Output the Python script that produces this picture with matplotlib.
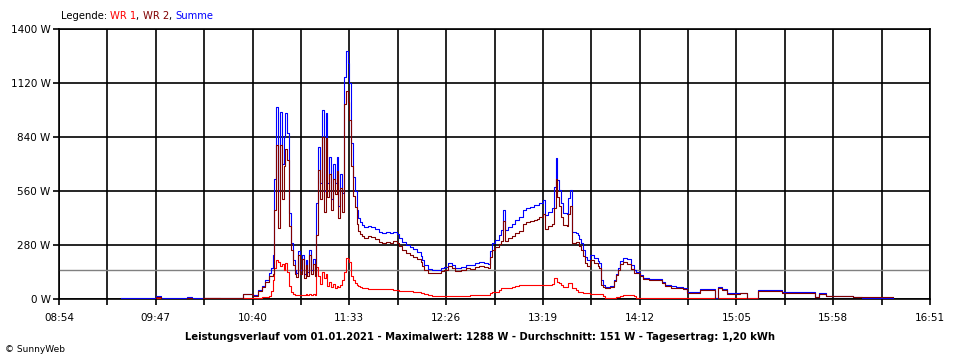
import numpy as np
import matplotlib
matplotlib.use('Agg')
import matplotlib.pyplot as plt
from matplotlib.ticker import FixedLocator

# Messwerte in Watt (Zeit, Summe, WR 1, WR 2)
times = ['09:28', '09:47', '09:50', '10:04', '10:07', '10:13', '10:22', '10:35', '10:40', '10:43',
         '10:45', '10:47', '10:49', '10:50', '10:51', '10:52', '10:53', '10:54', '10:55', '10:56',
         '10:57', '10:58', '10:59', '11:00', '11:01', '11:02', '11:03', '11:04', '11:05', '11:06',
         '11:07', '11:08', '11:09', '11:10', '11:11', '11:12', '11:13', '11:14', '11:15', '11:16',
         '11:17', '11:18', '11:19', '11:20', '11:21', '11:22', '11:23', '11:24', '11:25', '11:26',
         '11:27', '11:28', '11:29', '11:30', '11:31', '11:32', '11:33', '11:34', '11:35', '11:36',
         '11:37', '11:38', '11:39', '11:40', '11:41', '11:43', '11:45', '11:47', '11:49', '11:51',
         '11:53', '11:55', '11:57', '11:59', '12:00', '12:02', '12:04', '12:06', '12:08', '12:10',
         '12:12', '12:13', '12:14', '12:16', '12:18', '12:21', '12:23', '12:25', '12:27', '12:29',
         '12:31', '12:34', '12:37', '12:39', '12:42', '12:44', '12:47', '12:49', '12:50', '12:51',
         '12:53', '12:55', '12:56', '12:57', '12:58', '13:00', '13:02', '13:04', '13:06', '13:08',
         '13:10', '13:12', '13:14', '13:16', '13:17', '13:19', '13:20', '13:22', '13:24', '13:25',
         '13:26', '13:27', '13:28', '13:29', '13:30', '13:32', '13:33', '13:34', '13:35', '13:37',
         '13:38', '13:39', '13:40', '13:41', '13:42', '13:43', '13:45', '13:47', '13:49', '13:50',
         '13:51', '13:52', '13:53', '13:56', '13:58', '13:59', '14:00', '14:01', '14:03', '14:05',
         '14:07', '14:09', '14:10', '14:12', '14:14', '14:17', '14:21', '14:24', '14:26', '14:29',
         '14:32', '14:36', '14:38', '14:45', '14:53', '14:55', '14:57', '15:00', '15:07', '15:11',
         '15:17', '15:30', '15:48', '15:50', '15:54', '16:09', '16:14', '16:31']
summe = [4, 14, 4, 9, 4, 7, 5, 28, 20, 45,
         70, 100, 135, 160, 230, 620, 997, 560, 971, 700,
         840, 964, 860, 446, 290, 200, 150, 135, 250, 150,
         230, 130, 200, 140, 254, 150, 210, 140, 497, 788,
         600, 980, 560, 964, 601, 736, 520, 700, 601, 736,
         480, 650, 549, 1151, 1288, 1224, 1120, 809, 633, 560,
         461, 420, 400, 385, 373, 378, 373, 365, 350, 342,
         347, 342, 350, 335, 316, 295, 280, 268, 258, 244,
         225, 200, 176, 155, 150, 150, 160, 168, 187, 176,
         160, 165, 176, 176, 185, 192, 185, 180, 250, 290,
         306, 330, 358, 461, 358, 373, 390, 410, 425, 461,
         470, 477, 485, 490, 497, 513, 435, 450, 470, 581,
         731, 617, 565, 500, 446, 440, 524, 565, 347, 342,
         330, 310, 290, 254, 220, 202, 228, 212, 195, 187,
         98, 75, 62, 65, 98, 130, 160, 195, 212, 205,
         176, 150, 140, 125, 109, 104, 104, 90, 73, 66,
         62, 55, 36, 52, 5, 62, 52, 31, 33, 0,
         47, 36, 10, 31, 16, 10, 5, 5]
wr1 = [2, 6, 2, 4, 2, 3, 2, 4, 4, 6,
       8, 12, 15, 40, 100, 160, 200, 190, 170, 180,
       150, 185, 140, 70, 35, 25, 22, 21, 22, 20,
       22, 20, 24, 22, 24, 22, 26, 22, 166, 120,
       80, 140, 110, 130, 70, 90, 60, 80, 55, 70,
       60, 75, 98, 140, 212, 205, 190, 120, 98, 85,
       73, 65, 62, 58, 55, 52, 52, 52, 52, 52,
       50, 50, 48, 45, 43, 41, 41, 40, 38, 36,
       31, 31, 28, 20, 16, 16, 16, 16, 16, 16,
       16, 16, 16, 21, 21, 21, 21, 21, 30, 36,
       36, 45, 57, 57, 57, 57, 62, 68, 73, 73,
       73, 73, 73, 73, 73, 73, 73, 73, 80, 109,
       109, 90, 83, 75, 62, 62, 83, 83, 57, 45,
       36, 36, 36, 31, 31, 31, 26, 26, 26, 26,
       26, 15, 5, 5, 5, 8, 10, 15, 21, 21,
       21, 15, 7, 7, 7, 7, 7, 7, 7, 7,
       7, 5, 3, 3, 3, 3, 3, 3, 3, 3,
       np.nan, np.nan, np.nan, np.nan, np.nan, np.nan, np.nan, np.nan]
wr2 = [2, 8, 2, 5, 2, 4, 3, 24, 16, 39,
       62, 88, 120, 120, 130, 460, 797, 370, 801, 520,
       690, 779, 720, 376, 255, 175, 128, 114, 228, 130,
       208, 110, 176, 118, 230, 128, 184, 118, 331, 668,
       520, 840, 450, 834, 531, 646, 460, 620, 546, 666,
       420, 575, 451, 1011, 1076, 1019, 930, 689, 535, 475,
       388, 355, 338, 327, 318, 326, 321, 313, 298, 290,
       297, 292, 302, 290, 273, 254, 239, 228, 220, 208,
       194, 169, 148, 135, 134, 134, 144, 152, 171, 160,
       144, 149, 160, 155, 164, 171, 164, 159, 220, 254,
       270, 285, 301, 404, 301, 316, 328, 342, 352, 388,
       397, 404, 412, 417, 424, 440, 362, 377, 390, 472,
       622, 527, 482, 425, 384, 378, 441, 482, 290, 297,
       294, 274, 254, 223, 189, 171, 202, 186, 169, 161,
       72, 60, 57, 60, 93, 122, 150, 180, 191, 184,
       155, 135, 133, 118, 102, 97, 97, 83, 66, 59,
       55, 50, 33, 49, 2, 59, 49, 28, 30, 0,
       42, 33, 8, 28, 14, 9, 9, np.nan]

AVERAGE = 151
Y_TICKS = [0, 280, 560, 840, 1120, 1400]
X_TICK_LABELS = ['08:54', '09:47', '10:40', '11:33', '12:26', '13:19', '14:12', '15:05', '15:58', '16:51']

TITLE = ('Leistungsverlauf vom 01.01.2021 - Maximalwert: 1288 W - '
         'Durchschnitt: 151 W - Tagesertrag: 1,20 kWh')

RED = '#ff0000'
DARK_RED = '#800000'
BLUE = '#0000ff'


def to_minutes(hhmm):
    h, m = hhmm.split(':')
    return int(h) * 60 + int(m)


t = np.array([to_minutes(s) for s in times])
x_ticks = [to_minutes(s) for s in X_TICK_LABELS]
x_minor = [(a + b) / 2 for a, b in zip(x_ticks[:-1], x_ticks[1:])]

fig = plt.figure(figsize=(9.6, 3.6), dpi=100)
fig.patch.set_facecolor('white')
ax = fig.add_axes([59 / 960, 1 - 299 / 360, (930 - 59) / 960, 270 / 360])

ax.plot(t, summe, color=BLUE, lw=0.8, drawstyle='steps-post', zorder=4)
ax.plot(t, wr2, color=DARK_RED, lw=0.8, drawstyle='steps-post', zorder=5)
ax.plot(t, wr1, color=RED, lw=0.8, drawstyle='steps-post', zorder=3)
ax.axhline(AVERAGE, color='#808080', lw=1.0, zorder=2)

ax.set_xlim(x_ticks[0], x_ticks[-1])
ax.set_ylim(0, 1400)
ax.xaxis.set_major_locator(FixedLocator(x_ticks))
ax.xaxis.set_minor_locator(FixedLocator(x_minor))
ax.set_xticklabels(X_TICK_LABELS)
ax.set_yticks(Y_TICKS)
ax.set_yticklabels([f'{v} W' for v in Y_TICKS])
ax.tick_params(axis='both', which='both', direction='out', length=4, width=1.2,
               color='black', labelsize=7.5, pad=2)
ax.tick_params(axis='x', pad=6)
ax.grid(True, which='both', color='black', lw=1.2, zorder=1)
for spine in ax.spines.values():
    spine.set_color('black')
    spine.set_linewidth(1.2)

# Legende oben links, mehrfarbig
renderer = fig.canvas.get_renderer()
x_pos = 61 / 960
for part, col in [('Legende: ', 'black'), ('WR 1', RED), (', ', 'black'),
                  ('WR 2', DARK_RED), (', ', 'black'), ('Summe', BLUE)]:
    txt = fig.text(x_pos, 1 - 16 / 360, part, color=col, fontsize=7.2,
                   ha='left', va='center')
    x_pos += txt.get_window_extent(renderer).width / 960

fig.text(480 / 960, 1 - 337 / 360, TITLE, fontsize=7.2, fontweight='bold',
         ha='center', va='center')
fig.text(5 / 960, 1 - 349 / 360, '\u00a9 SunnyWeb', fontsize=6.5, ha='left', va='center')

fig.savefig('out.png', dpi=100, facecolor='white')
